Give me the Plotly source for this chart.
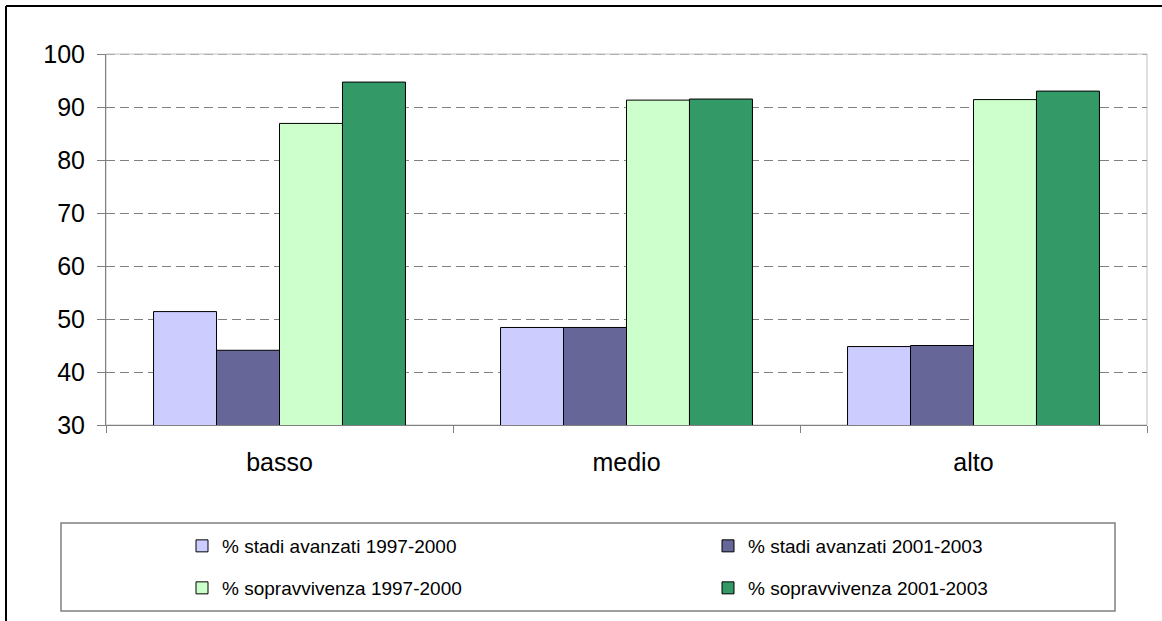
import plotly.graph_objects as go

categories = ["basso", "medio", "alto"]
series_names = [
    "% stadi avanzati 1997-2000",
    "% stadi avanzati 2001-2003",
    "% sopravvivenza 1997-2000",
    "% sopravvivenza 2001-2003",
]
stadi_1997_2000 = [51.4, 48.4, 44.8]
stadi_2001_2003 = [44.1, 48.4, 45.0]
sopr_1997_2000 = [86.9, 91.3, 91.4]
sopr_2001_2003 = [94.7, 91.5, 93.0]
y_ticks = [30, 40, 50, 60, 70, 80, 90, 100]

colors = ["#CCCCFF", "#666699", "#CCFFCC", "#339966"]
values = [stadi_1997_2000, stadi_2001_2003, sopr_1997_2000, sopr_2001_2003]
legend_ids = ["legend", "legend2", "legend3", "legend4"]

fig = go.Figure()
for name, vals, col, lg in zip(series_names, values, colors, legend_ids):
    fig.add_trace(go.Bar(
        x=categories, y=vals, name=name, legend=lg,
        marker=dict(color=col, line=dict(color="#000000", width=1)),
    ))

W, H = 1162, 621
L, R, T, B = 106, 1147, 54, 425

def px(xp):
    return (xp - L) / (R - L)

def py(yp):
    return (B - yp) / (B - T)

legend_common = dict(
    orientation="h", xanchor="left", yanchor="middle",
    font=dict(family="Liberation Sans, Arial", size=19, color="#000000"),
    bgcolor="rgba(0,0,0,0)", borderwidth=0,
)
row1, row2 = 546, 588
col1, col2 = 182, 708
fig.update_layout(
    width=W, height=H,
    margin=dict(l=L, r=W - R, t=T, b=H - B, autoexpand=False),
    paper_bgcolor="#FFFFFF", plot_bgcolor="#FFFFFF",
    barmode="group", bargap=0.274, bargroupgap=0,
    font=dict(family="Liberation Sans, Arial", color="#000000"),
    legend=dict(x=px(col1), y=py(row1), **legend_common),
    legend2=dict(x=px(col2), y=py(row1), **legend_common),
    legend3=dict(x=px(col1), y=py(row2), **legend_common),
    legend4=dict(x=px(col2), y=py(row2), **legend_common),
    showlegend=True,
)
fig.update_yaxes(
    range=[30, 100], tickvals=y_ticks, ticktext=[str(v) for v in y_ticks],
    showgrid=True, gridcolor="#808080", griddash="9px,5px", gridwidth=1,
    showline=True, linecolor="#808080", linewidth=1,
    ticks="outside", ticklen=8, tickcolor="#808080",
    tickfont=dict(size=25, family="Liberation Sans, Arial", color="#000000"),
    ticklabelstandoff=7, zeroline=False,
)
fig.update_xaxes(
    showline=True, linecolor="#808080", linewidth=1,
    ticks="outside", ticklen=7, tickcolor="#808080", tickson="boundaries",
    tickfont=dict(size=25, family="Liberation Sans, Arial", color="#000000"),
    ticklabelstandoff=15, showgrid=False,
)

shapes = [
    dict(type="rect", xref="paper", yref="paper", x0=0, x1=1, y0=0, y1=1,
         line=dict(color="#C0C0C0", width=1), layer="below"),
    # top gridline (plotly omits the gridline at the range edge)
    dict(type="line", xref="paper", yref="y", x0=0, x1=1, y0=y_ticks[-1], y1=y_ticks[-1],
         line=dict(color="#808080", width=1, dash="9px,5px"), layer="above"),
    dict(type="line", xref="paper", yref="paper", x0=px(6), x1=px(1200), y0=py(6), y1=py(6),
         line=dict(color="#000000", width=2)),
    dict(type="line", xref="paper", yref="paper", x0=px(6), x1=px(6), y0=py(6), y1=py(640),
         line=dict(color="#000000", width=2)),
    dict(type="rect", xref="paper", yref="paper", x0=px(61), x1=px(1115), y0=py(611), y1=py(523),
         line=dict(color="#808080", width=1.5)),
]
fig.update_layout(shapes=shapes)

fig.write_html(
    "out.html",
    config={"displayModeBar": False},
    post_script="document.body.style.margin='0';document.body.style.padding='0';",
)
